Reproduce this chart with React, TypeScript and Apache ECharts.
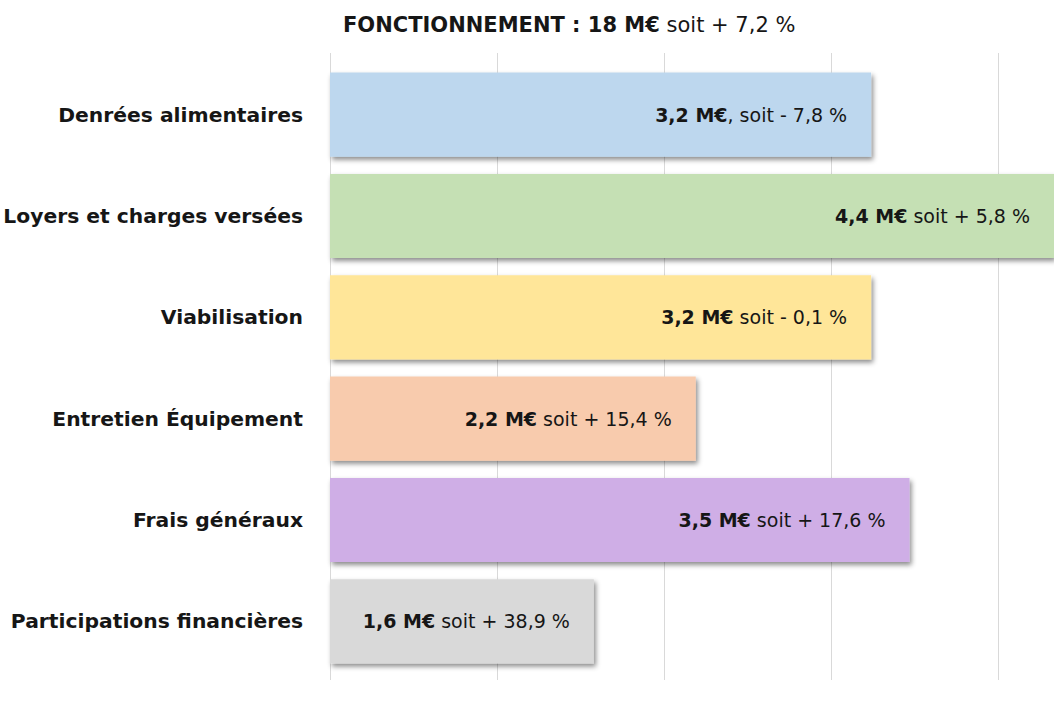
import React, { useEffect, useRef } from "react";
import * as echarts from "echarts";

const categories = [
  "Denrées alimentaires",
  "Loyers et charges versées",
  "Viabilisation",
  "Entretien Équipement",
  "Frais généraux",
  "Participations financières",
];
const values = [3.24, 4.4, 3.24, 2.19, 3.47, 1.58];
const amountLabels = ["3,2 M€", "4,4 M€", "3,2 M€", "2,2 M€", "3,5 M€", "1,6 M€"];
const changeLabels = [", soit - 7,8 %", " soit + 5,8 %", " soit - 0,1 %", " soit + 15,4 %", " soit + 17,6 %", " soit + 38,9 %"];
const colors = ["#BDD7EE", "#C5E0B4", "#FFE699", "#F8CBAD", "#CFAEE6", "#D9D9D9"];
const titleBold = "FONCTIONNEMENT : 18 M€";
const titleRest = " soit + 7,2 %";

const FONT = "DejaVu Sans";

export default function App() {
  const ref = useRef<HTMLDivElement>(null);
  useEffect(() => {
    const chart = echarts.init(ref.current!, null, { renderer: "svg" });
    chart.setOption({
      animation: false,
      title: {
        text: `{b|${titleBold}}{n|${titleRest}}`,
        left: 338,
        top: 9,
        textStyle: {
          fontWeight: "normal",
          rich: {
            b: { fontFamily: FONT, fontWeight: "bold", fontSize: 21, color: "#161616" },
            n: { fontFamily: FONT, fontWeight: "normal", fontSize: 21, color: "#161616" },
          },
        },
      },
      grid: [
        { left: 330, right: 0, top: 64, bottom: 32 },
        { left: 330, right: 0, top: 53, bottom: 24 },
      ],
      xAxis: [
        {
          type: "value",
          gridIndex: 0,
          min: 0,
          max: 4.335,
          interval: 1,
          axisLabel: { show: false },
          axisLine: { show: false },
          axisTick: { show: false },
          splitLine: { show: false },
        },
        {
          type: "value",
          gridIndex: 1,
          min: 0,
          max: 4.335,
          interval: 1,
          axisLabel: { show: false },
          axisLine: { show: false },
          axisTick: { show: false },
          splitLine: { show: true, showMaxLine: false, lineStyle: { color: "#D9D9D9", width: 1 } },
        },
      ],
      yAxis: [
        {
          type: "category",
          gridIndex: 0,
          data: categories,
          inverse: true,
          axisLine: { show: false },
          axisTick: { show: false },
          axisLabel: {
            margin: 27,
            fontFamily: FONT,
            fontWeight: "bold",
            fontSize: 20.3,
            color: "#161616",
          },
        },
        {
          type: "category",
          gridIndex: 1,
          data: categories,
          show: false,
        },
      ],
      series: [
        {
          type: "bar",
          xAxisIndex: 0,
          yAxisIndex: 0,
          barCategoryGap: "17%",
          clip: true,
          data: values.map((v, i) => ({
            value: v,
            itemStyle: { color: colors[i] },
            label: {
              formatter: `{b|${amountLabels[i]}}{n|${changeLabels[i]}}`,
            },
          })),
          itemStyle: {
            shadowBlur: 5,
            shadowOffsetX: 2,
            shadowOffsetY: 3,
            shadowColor: "rgba(0,0,0,0.45)",
          },
          label: {
            show: true,
            position: "insideRight",
            distance: 24,
            rich: {
              b: { fontFamily: FONT, fontWeight: "bold", fontSize: 19, color: "#161616" },
              n: { fontFamily: FONT, fontWeight: "normal", fontSize: 19, color: "#161616" },
            },
          },
        },
      ],
    });
    return () => chart.dispose();
  }, []);
  return (
    <div
      ref={ref}
      style={{ position: "fixed", left: 0, top: 0, width: 1054, height: 704, background: "#fff" }}
    />
  );
}
